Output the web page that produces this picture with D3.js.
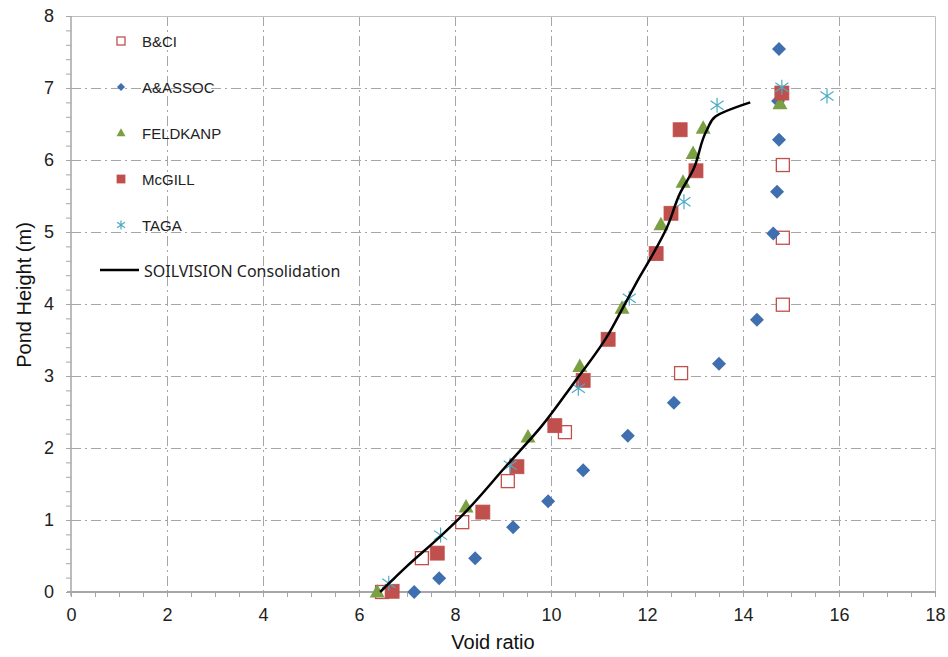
<!DOCTYPE html>
<html><head><meta charset="utf-8">
<script src="https://cdn.jsdelivr.net/npm/d3@7"></script>
<style>body{margin:0;background:#fff}svg{display:block}</style>
</head><body>
<svg id="c" width="948" height="657"></svg>
<script>
const xTicks = [0,2,4,6,8,10,12,14,16,18];
const yTicks = [0,1,2,3,4,5,6,7,8];
const seriesNames = ["B&CI","A&ASSOC","FELDKANP","McGILL","TAGA"];
const lineName = "SOILVISION Consolidation";
const bci = [[6.48,0],[7.31,0.47],[8.15,0.97],[9.1,1.54],[10.29,2.22],[12.71,3.04],[14.83,3.99],[14.83,4.92],[14.83,5.93]];
const aassoc = [[7.15,0],[7.67,0.19],[8.42,0.47],[9.21,0.9],[9.94,1.26],[10.67,1.69],[11.6,2.17],[12.56,2.63],[13.5,3.17],[14.29,3.78],[14.63,4.98],[14.71,5.56],[14.75,6.28],[14.73,6.82],[14.75,7.54]];
const feldkanp = [[6.38,0],[8.23,1.18],[9.52,2.15],[10.6,3.13],[11.48,3.94],[12.29,5.1],[12.75,5.69],[12.96,6.09],[13.17,6.44],[14.77,6.78]];
const mcgill = [[6.69,0.01],[7.63,0.54],[8.58,1.11],[9.29,1.74],[10.08,2.31],[10.67,2.94],[11.19,3.51],[12.19,4.7],[12.5,5.26],[13.02,5.85],[12.69,6.42],[14.81,6.93]];
const taga = [[6.62,0.12],[7.7,0.79],[9.15,1.76],[10.57,2.83],[11.63,4.08],[12.77,5.42],[13.46,6.76],[14.81,7.01],[15.75,6.89]];
const soilvision = [[6.44,0],[7.0,0.36],[7.69,0.77],[8.1,1.03],[9.08,1.76],[9.8,2.3],[10.45,2.88],[11.16,3.54],[11.5,3.95],[11.85,4.38],[12.13,4.7],[12.42,5.07],[12.69,5.54],[12.96,5.86],[13.25,6.42],[13.42,6.6],[14.15,6.8]];

const svg = d3.select("#c");
const x = d3.scaleLinear().domain([0,18]).range([71,935]);
const y = d3.scaleLinear().domain([0,8]).range([592,16]);
const font = "Liberation Sans, Arial, sans-serif";

// grid
const gridStyle = (s)=>s.attr("stroke","#A6A6A6").attr("stroke-width",1).attr("stroke-dasharray","10,4,2,4");
svg.append("g").selectAll("line").data(xTicks.slice(1,-1)).join("line")
  .attr("x1",d=>x(d)+0.5).attr("x2",d=>x(d)+0.5).attr("y1",y(8)).attr("y2",y(0)).call(gridStyle);
svg.append("g").selectAll("line").data(yTicks.slice(1,-1)).join("line")
  .attr("y1",d=>y(d)+0.5).attr("y2",d=>y(d)+0.5).attr("x1",x(0)).attr("x2",x(18)).call(gridStyle);
// border top/right
svg.append("path").attr("d",`M${x(0)},${y(8)+0.5}H${x(18)+0.5}V${y(0)}`).attr("fill","none").attr("stroke","#BFBFBF");

// axes
const xAxis = d3.axisBottom(x).tickValues(d3.range(0,18.01,0.5)).tickSize(5).tickFormat(()=>"");
const gx = svg.append("g").attr("transform",`translate(0,${y(0)})`).call(xAxis);
gx.select(".domain").remove();
gx.selectAll(".tick line").attr("stroke","#A6A6A6").attr("y1",-1);
svg.append("line").attr("x1",x(0)-4).attr("x2",x(18)).attr("y1",y(0)).attr("y2",y(0)).attr("stroke","#A6A6A6").attr("stroke-width",2);
const gxl = svg.append("g").attr("transform",`translate(0,${y(0)})`).call(d3.axisBottom(x).tickValues(xTicks).tickSize(0).tickPadding(16));
gxl.select(".domain").remove();
gxl.selectAll("text").attr("font-family",font).attr("font-size",18).attr("fill","#222");

const gy = svg.append("g").attr("transform",`translate(${x(0)},0)`).call(d3.axisLeft(y).tickValues(d3.range(0,8.001,0.2)).tickSize(5).tickFormat(()=>""));
gy.select(".domain").remove();
gy.selectAll(".tick line").attr("stroke","#A6A6A6");
svg.append("line").attr("x1",x(0)).attr("x2",x(0)).attr("y1",y(8)).attr("y2",y(0)+4).attr("stroke","#A6A6A6").attr("stroke-width",1.5);
const gyl = svg.append("g").attr("transform",`translate(${x(0)},0)`).call(d3.axisLeft(y).tickValues(yTicks).tickSize(0).tickPadding(17));
gyl.select(".domain").remove();
gyl.selectAll("text").attr("font-family",font).attr("font-size",18).attr("fill","#222");

// axis titles
svg.append("text").attr("x",493).attr("y",649).attr("text-anchor","middle").attr("font-family",font).attr("font-size",20).attr("fill","#111").text("Void ratio");
svg.append("text").attr("transform","translate(31,295) rotate(-90)").attr("text-anchor","middle").attr("font-family",font).attr("font-size",20).attr("fill","#111").text("Pond Height (m)");

// marker painters
const red="#C0504D", blue="#3F6FAE", green="#7BA043", teal="#4BACC6";
function sq(g,cx,cy,s,open){
  g.append("rect").attr("x",cx-s/2).attr("y",cy-s/2).attr("width",s).attr("height",s)
   .attr("fill",open?"#fff":red).attr("stroke",red).attr("stroke-width",open?1.3:0.8).attr("fill-opacity",1);
}
function dia(g,cx,cy,s){
  g.append("path").attr("d",`M${cx},${cy-s/2}L${cx+s/2},${cy}L${cx},${cy+s/2}L${cx-s/2},${cy}Z`).attr("fill",blue);
}
function tri(g,cx,cy,s){
  const h=s*0.9;
  g.append("path").attr("d",`M${cx},${cy-h*0.6}L${cx+s/2},${cy+h*0.4}L${cx-s/2},${cy+h*0.4}Z`).attr("fill",green);
}
function ast(g,cx,cy,s){
  const r=s/2;
  g.append("path").attr("d",`M${cx},${cy-r}V${cy+r}M${cx-r*0.87},${cy-r*0.6}L${cx+r*0.87},${cy+r*0.6}M${cx-r*0.87},${cy+r*0.6}L${cx+r*0.87},${cy-r*0.6}`)
   .attr("stroke",teal).attr("stroke-width",1.2).attr("fill","none");
}

const pts = svg.append("g");
bci.forEach(d=>sq(pts,x(d[0]),y(d[1]),13,true));
aassoc.forEach(d=>dia(pts,x(d[0]),y(d[1]),14));
feldkanp.forEach(d=>tri(pts,x(d[0]),y(d[1]),15));
mcgill.forEach(d=>sq(pts,x(d[0]),y(d[1]),14,false));
taga.forEach(d=>ast(pts,x(d[0]),y(d[1]),15));

svg.append("path").datum(soilvision)
  .attr("d",d3.line().x(d=>x(d[0])).y(d=>y(d[1])).curve(d3.curveMonotoneY))
  .attr("fill","none").attr("stroke","#000").attr("stroke-width",2.5);

// legend
const lg = svg.append("g");
const rows=[41,87,133,179,225];
const painters=[(g,cx,cy)=>sq(g,cx,cy,8,true),(g,cx,cy)=>dia(g,cx,cy,8),(g,cx,cy)=>tri(g,cx,cy,9),(g,cx,cy)=>sq(g,cx,cy,8,false),(g,cx,cy)=>ast(g,cx,cy,9)];
seriesNames.forEach((n,i)=>{
  painters[i](lg,121,rows[i]);
  lg.append("text").attr("x",142).attr("y",rows[i]+6).attr("font-family",font).attr("font-size",15).attr("fill","#222").text(n);
});
lg.append("line").attr("x1",100).attr("x2",139).attr("y1",270).attr("y2",270).attr("stroke","#000").attr("stroke-width",2.5);
lg.append("text").attr("x",144).attr("y",277).attr("font-family","Noto Sans, Open Sans, sans-serif").attr("font-size",16).attr("fill","#222").text(lineName);
</script>
</body></html>
